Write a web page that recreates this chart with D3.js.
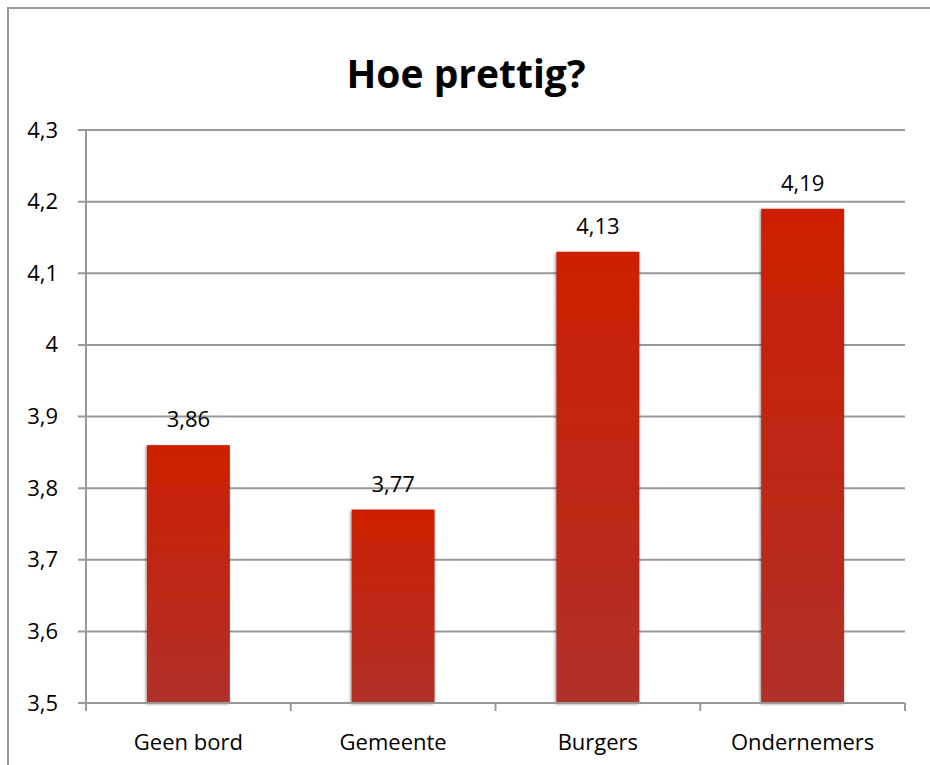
<!DOCTYPE html>
<html>
<head>
<meta charset="utf-8">
<script src="https://cdn.jsdelivr.net/npm/d3@7"></script>
<style>
  body { margin: 0; background: #fff; }
  text { font-family: "Open Sans", Lato, sans-serif; fill: #000; }
</style>
</head>
<body>
<div id="chart"></div>
<script>
// data
const categories = ["Geen bord", "Gemeente", "Burgers", "Ondernemers"];
const values = [3.86, 3.77, 4.13, 4.19];
const yTicks = [3.5, 3.6, 3.7, 3.8, 3.9, 4.0, 4.1, 4.2, 4.3];
const chartTitle = "Hoe prettig?";

let svgWidth = 930;
let svgHeight = 765;

// plot area edges
let plotLeft = 86, plotRight = 905, plotTop = 130, plotBottom = 703;

let svg = d3.select("#chart")
  .append("svg")
  .attr("width", svgWidth)
  .attr("height", svgHeight);

// outer frame (right and bottom fall off the picture)
svg.append("rect")
  .attr("x", 8).attr("y", 8)
  .attr("width", 940).attr("height", 780)
  .attr("fill", "none")
  .attr("stroke", "#999")
  .attr("stroke-width", 2);

// comma as decimal separator
const nl = d3.formatLocale({decimal: ",", thousands: ".", grouping: [3], currency: ["€", ""]});
const fmtTick = v => nl.format("~g")(+v.toFixed(1));
const fmtVal = nl.format(".2f");

let xScale = d3.scaleBand()
  .domain(categories)
  .range([plotLeft, plotRight])
  .paddingInner(0.595)
  .paddingOuter(0.2975);

let yScale = d3.scaleLinear()
  .domain([3.5, 4.3])
  .range([plotBottom, plotTop]);

// gradient + shadow for bars
let defs = svg.append("defs");
let grad = defs.append("linearGradient")
  .attr("id", "barGrad")
  .attr("x1", 0).attr("y1", 0).attr("x2", 0).attr("y2", 1);
grad.append("stop").attr("offset", "0%").attr("stop-color", "#cd1f00");
grad.append("stop").attr("offset", "100%").attr("stop-color", "#b0302a");

let shadow = defs.append("filter").attr("id", "shadow")
  .attr("x", "-20%").attr("y", "-10%").attr("width", "140%").attr("height", "120%");
shadow.append("feDropShadow")
  .attr("dx", -1).attr("dy", 1)
  .attr("stdDeviation", 1.5)
  .attr("flood-color", "#000")
  .attr("flood-opacity", 0.45);

// horizontal gridlines
svg.append("g")
  .selectAll("line")
  .data(yTicks)
  .enter().append("line")
  .attr("x1", plotLeft - 8)
  .attr("x2", plotRight)
  .attr("y1", d => yScale(d))
  .attr("y2", d => yScale(d))
  .attr("stroke", "#999")
  .attr("stroke-width", 2);

// y axis labels
let yAxis = d3.axisLeft(yScale)
  .tickValues(yTicks)
  .tickFormat(fmtTick)
  .tickSize(0)
  .tickPadding(28);

let yG = svg.append("g")
  .attr("transform", "translate(" + plotLeft + ",0)")
  .call(yAxis);
yG.select(".domain").remove();
yG.selectAll("text")
  .style("font-size", "22px")
  .style("font-family", "'Open Sans', Lato, sans-serif")
  .attr("fill", "#000");

// y axis line
svg.append("line")
  .attr("x1", plotLeft).attr("x2", plotLeft)
  .attr("y1", plotTop).attr("y2", plotBottom + 8)
  .attr("stroke", "#999")
  .attr("stroke-width", 2);

// x axis ticks between categories
let xTickPos = d3.range(categories.length + 1).map(i => plotLeft + i * (plotRight - plotLeft) / categories.length);
svg.append("g")
  .selectAll("line")
  .data(xTickPos)
  .enter().append("line")
  .attr("x1", d => d).attr("x2", d => d)
  .attr("y1", plotBottom).attr("y2", plotBottom + 8)
  .attr("stroke", "#999")
  .attr("stroke-width", 2);

// bars
svg.append("g")
  .selectAll("rect")
  .data(values)
  .enter().append("rect")
  .attr("x", (d, i) => xScale(categories[i]))
  .attr("y", d => yScale(d))
  .attr("width", xScale.bandwidth())
  .attr("height", d => plotBottom - yScale(d))
  .attr("fill", "url(#barGrad)")
  .attr("filter", "url(#shadow)");

// x axis line (on top of bar shadows)
svg.append("line")
  .attr("x1", plotLeft - 8).attr("x2", plotRight)
  .attr("y1", plotBottom).attr("y2", plotBottom)
  .attr("stroke", "#999")
  .attr("stroke-width", 2);

// value labels
svg.append("g")
  .selectAll("text")
  .data(values)
  .enter().append("text")
  .attr("x", (d, i) => xScale(categories[i]) + xScale.bandwidth() / 2)
  .attr("y", d => yScale(d) - 18)
  .attr("text-anchor", "middle")
  .style("font-size", "22px")
  .text(d => fmtVal(d));

// category labels
svg.append("g")
  .selectAll("text")
  .data(categories)
  .enter().append("text")
  .attr("x", d => xScale(d) + xScale.bandwidth() / 2)
  .attr("y", 750)
  .attr("text-anchor", "middle")
  .style("font-size", "22px")
  .text(d => d);

// title
svg.append("text")
  .attr("x", 466)
  .attr("y", 88)
  .attr("text-anchor", "middle")
  .style("font-size", "39px")
  .style("font-weight", "bold")
  .text(chartTitle);
</script>
</body>
</html>
